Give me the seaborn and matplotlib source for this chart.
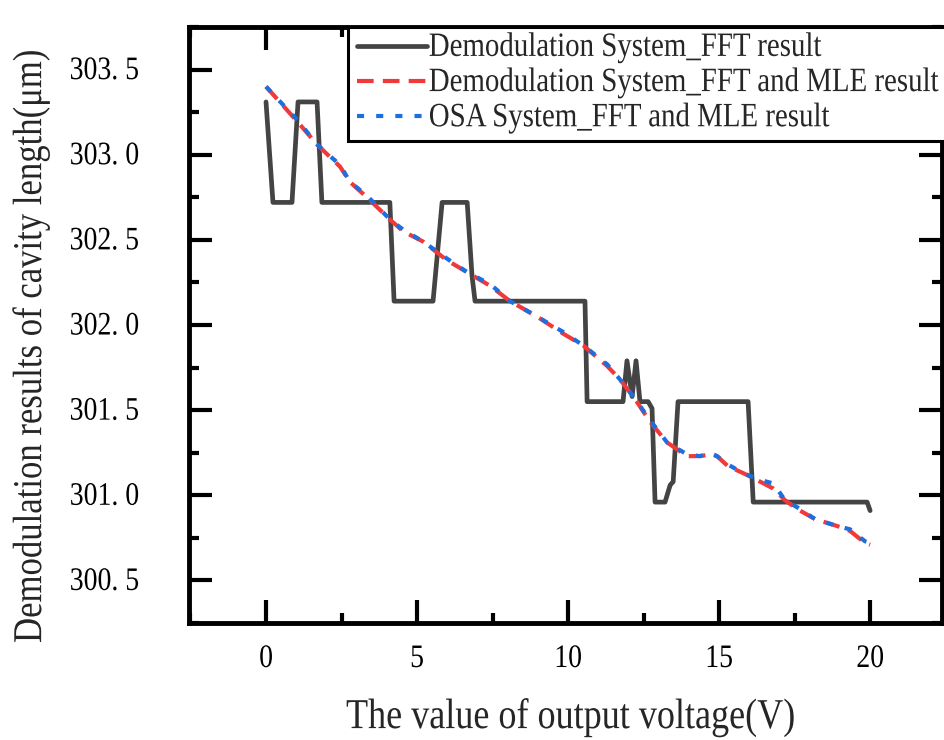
import numpy as np
import pandas as pd
import matplotlib
matplotlib.use("Agg")
import matplotlib.pyplot as plt
import seaborn as sns
from matplotlib.ticker import MultipleLocator, FixedLocator
from matplotlib.patheffects import AbstractPathEffect
from matplotlib.transforms import Affine2D

# ---- data ----
fft_voltage = [0.0, 0.23, 0.86, 1.06, 1.69, 1.85, 4.10, 4.24, 5.53, 5.83, 6.66, 6.82, 6.92,
               10.56, 10.63, 11.82, 11.95, 12.12, 12.25, 12.38, 12.65, 12.78, 12.88, 13.21,
               13.38, 13.48, 13.64, 15.96, 16.13, 19.90, 20.0]
fft_length = [303.31, 302.72, 302.72, 303.31, 303.31, 302.72, 302.72, 302.14, 302.14, 302.72,
              302.72, 302.29, 302.14, 302.14, 301.55, 301.55, 301.79, 301.58, 301.79, 301.55,
              301.55, 301.51, 300.96, 300.96, 301.06, 301.08, 301.55, 301.55, 300.96, 300.96,
              300.91]

mle_voltage = [0.0, 1.06, 1.69, 2.45, 2.78, 3.34, 4.10, 4.54, 5.20, 5.99, 6.66, 7.42, 8.08,
               8.97, 9.83, 10.50, 11.29, 11.72, 12.20, 12.72, 13.28, 13.94, 14.37, 14.70,
               14.93, 15.30, 15.80, 16.36, 16.79, 17.19, 17.58, 18.18, 18.90, 19.34, 19.83, 20.0]
mle_length = [303.40, 303.19, 303.06, 302.93, 302.84, 302.75, 302.62, 302.55, 302.49, 302.38,
              302.31, 302.23, 302.14, 302.05, 301.95, 301.88, 301.76, 301.68, 301.57, 301.43,
              301.31, 301.23, 301.23, 301.24, 301.23, 301.17, 301.13, 301.08, 301.04, 300.97,
              300.92, 300.86, 300.82, 300.79, 300.72, 300.71]

osa_voltage = [0.0, 1.06, 1.69, 2.45, 2.78, 3.34, 4.10, 4.54, 5.20, 5.99, 6.66, 7.42, 8.08,
               8.97, 9.83, 10.50, 11.29, 11.72, 12.20, 12.72, 13.28, 13.94, 14.37, 14.70,
               14.93, 15.30, 15.80, 16.36, 16.79, 17.19, 17.58, 18.18, 18.90, 19.34, 19.83, 20.0]
osa_length = [303.40, 303.20, 303.06, 302.94, 302.84, 302.76, 302.62, 302.56, 302.49, 302.39,
              302.31, 302.24, 302.14, 302.05, 301.96, 301.88, 301.77, 301.68, 301.57, 301.44,
              301.31, 301.24, 301.23, 301.25, 301.23, 301.18, 301.13, 301.09, 301.07, 300.97,
              300.93, 300.86, 300.82, 300.80, 300.73, 300.72]

series_names = ["Demodulation System_FFT result",
                "Demodulation System_FFT and MLE result",
                "OSA System_FFT and MLE result"]

x_ticks = [0, 5, 10, 15, 20]
x_tick_labels = ["0", "5", "10", "15", "20"]
y_ticks = [300.5, 301.0, 301.5, 302.0, 302.5, 303.0, 303.5]
y_tick_labels = ["300. 5", "301. 0", "301. 5", "302. 0", "302. 5", "303. 0", "303. 5"]


class StretchY(AbstractPathEffect):
    """Stretch glyphs along their own vertical direction (taller text)."""
    def __init__(self, s):
        super().__init__()
        self.s = s

    def draw_path(self, renderer, gc, tpath, affine, rgbFace=None):
        renderer.draw_path(gc, tpath, Affine2D().scale(1.0, self.s) + affine, rgbFace)


# ---- style ----
sns.set_style("ticks")
plt.rcParams["font.family"] = ["Liberation Serif", "DejaVu Serif"]

fig = plt.figure(figsize=(9.44, 7.40), dpi=100)
ax = fig.add_axes([0.2002, 0.1581, 0.7977, 0.8054])

df_fft = pd.DataFrame({"v": fft_voltage, "L": fft_length})
df_mle = pd.DataFrame({"v": mle_voltage, "L": mle_length})
df_osa = pd.DataFrame({"v": osa_voltage, "L": osa_length})

sns.lineplot(data=df_fft, x="v", y="L", ax=ax, color="#444444", lw=3.4,
             estimator=None, sort=False, label=series_names[0])
sns.lineplot(data=df_mle, x="v", y="L", ax=ax, color="#F03A3A", lw=3.0,
             estimator=None, sort=False, label=series_names[1])
sns.lineplot(data=df_osa, x="v", y="L", ax=ax, color="#1C6FE0", lw=3.0,
             estimator=None, sort=False, label=series_names[2])
lines = ax.get_lines()
lines[1].set_dashes([4.0, 2.2])
lines[2].set_dashes([1.7, 2.9])

ax.set_xlim(-2.55, 22.38)
ax.set_ylim(300.25, 303.75)

ax.xaxis.set_major_locator(FixedLocator(x_ticks))
ax.set_xticklabels(x_tick_labels)
ax.xaxis.set_minor_locator(MultipleLocator(2.5))
ax.yaxis.set_major_locator(FixedLocator(y_ticks))
ax.set_yticklabels(y_tick_labels)
ax.yaxis.set_minor_locator(MultipleLocator(0.25))

ax.tick_params(which="both", direction="in", top=True, right=True, width=3.0,
               colors="black")
ax.tick_params(which="major", length=16.5, labelsize=20)
ax.tick_params(which="minor", length=7.2)
ax.tick_params(axis="x", which="major", pad=18)
ax.tick_params(axis="y", which="major", pad=36)
for s in ax.spines.values():
    s.set_linewidth(3.5)
    s.set_color("black")

ax.set_xlabel("The value of output voltage(V)", fontsize=26, va="center")
ax.set_ylabel("Demodulation results of cavity length(μm)", fontsize=25, va="center")
ax.xaxis.set_label_coords(0.507, -0.162)
ax.yaxis.set_label_coords(-0.208, 0.466)

leg = ax.legend(loc="upper left", bbox_to_anchor=(0.211, 1.0), fontsize=20.8,
                frameon=True, fancybox=False, borderpad=0.3, labelspacing=0.31,
                handlelength=2.45, handletextpad=0.05, borderaxespad=0.0)
leg.get_frame().set_edgecolor("black")
leg.get_frame().set_linewidth(2.2)
leg.get_frame().set_alpha(1)

stretch = [StretchY(1.18)]
texts = (ax.get_xticklabels() + ax.get_yticklabels() + leg.get_texts()
         + [ax.xaxis.label, ax.yaxis.label])
for t in texts:
    t.set_path_effects(stretch)

fig.savefig("out.png", dpi=100)
